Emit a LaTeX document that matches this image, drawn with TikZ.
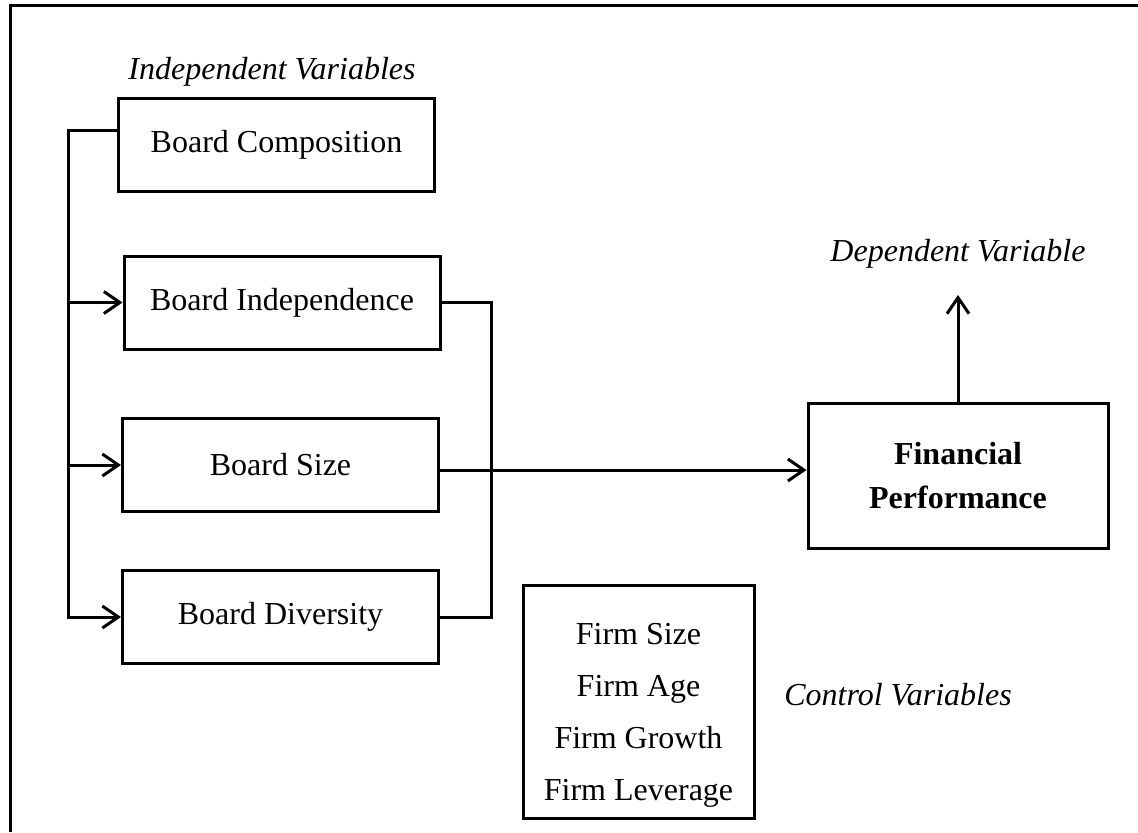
\documentclass[tikz,border=0pt]{standalone}
\usepackage{fontspec}
\setmainfont{Liberation Serif}
\usetikzlibrary{arrows.meta}

\begin{document}
\begin{tikzpicture}[
	x=0.5pt, y=0.5pt,
	line width=1.5pt,
	font=\fontsize{16}{20}\selectfont,
	>={Straight Barb[length=8pt,width=11pt]},
	box/.style={
		rectangle,
		draw,
		align=center,
		minimum width=158pt,
		minimum height=46.5pt
	},
	heading/.style={
		font=\fontsize{16}{20}\selectfont\itshape
	}]

   \useasboundingbox (0,0) rectangle (1138,-832);
   \draw (1138,-5) -- (10,-5) -- (10,-832);

   % independent side
   \node[heading] (indepvar) at (272,-72) {Independent Variables};
   \node[box] (comp) at (276.5,-144.5) {Board Composition};
   \node[box] (indep) at (282,-302.5) {Board Independence};
   \node[box] (bsize) at (280.5,-465) {Board Size};
   \node[box] (div) at (280.5,-617) {Board Diversity};

   % dependent side
   \node[heading] (depvar) at (958,-254) {Dependent Variable};
   \node[box, minimum width=150pt, minimum height=72.5pt,
         font=\fontsize{16}{22}\selectfont\bfseries] (fin) at (958,-475.5) {Financial\\Performance};

   % controls
   \node[box, minimum width=115.5pt, minimum height=116.5pt, inner ysep=1pt,
         font=\fontsize{16}{26}\selectfont] (ctrl) at (638.5,-701.5) {\rule{0pt}{24pt}Firm Size\\Firm Age\\Firm Growth\\Firm Leverage};
   \node[heading] (ctrlvar) at (898,-695) {Control Variables};

   \coordinate (spine) at (68,-130);
   \coordinate (join) at (491,-302.5);
   \coordinate (mainrow) at (0,-470);
   \coordinate (deptip) at (958,-295);

   \draw[->] (comp.west |- spine) -- (spine) |- (div.west);
   \draw[->] (spine |- indep.west) -- (indep.west);
   \draw[->] (spine |- bsize.west) -- (bsize.west);
   \draw (indep.east) -- (join) |- (div.east);
   \draw[->] (bsize.east |- mainrow) -- (fin.west |- mainrow);
   \draw[->] (fin.north) -- (deptip);
\end{tikzpicture}
\end{document}
